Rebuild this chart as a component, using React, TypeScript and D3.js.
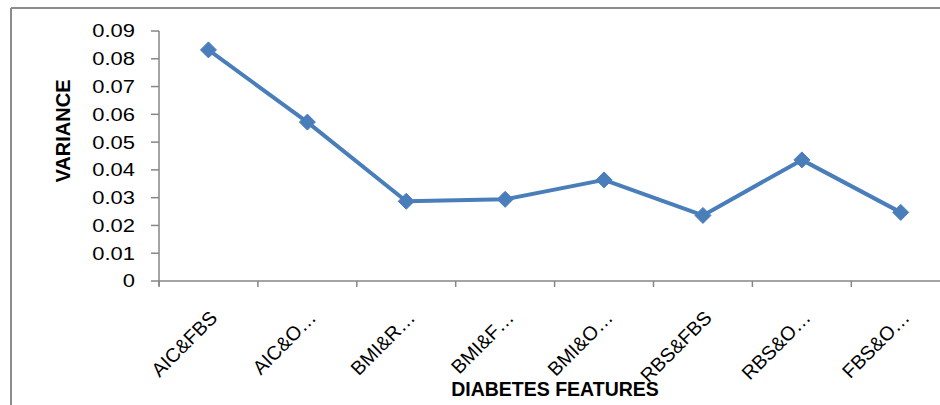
import React from "react";
import * as d3 from "d3";

const categories = ["AIC&FBS", "AIC&O…", "BMI&R…", "BMI&F…", "BMI&O…", "RBS&FBS", "RBS&O…", "FBS&O…"];
const variance = [0.0832, 0.0572, 0.0287, 0.0294, 0.0364, 0.0236, 0.0436, 0.0247];
const yTicks = [0, 0.01, 0.02, 0.03, 0.04, 0.05, 0.06, 0.07, 0.08, 0.09];
const yTickLabels = ["0", "0.01", "0.02", "0.03", "0.04", "0.05", "0.06", "0.07", "0.08", "0.09"];

const W = 940;
const H = 405;
const left = 159;
const top = 31;
const bottom = 281;
const step = 98.9;

export default function App() {
  const x = d3.scaleBand<string>().domain(categories).range([left, left + step * categories.length]);
  const y = d3.scaleLinear().domain([0, 0.09]).range([bottom, top]);
  const line = d3
    .line<number>()
    .x((_, i) => (x(categories[i]) as number) + x.bandwidth() / 2)
    .y((d) => y(d));
  const font = "'Liberation Sans', Arial, sans-serif";
  const axisColor = "#868686";
  const blue = "#4a7ebb";
  const dia = 8;
  return (
    <svg width={W} height={H} style={{ position: "absolute", left: 0, top: 0, display: "block", background: "#fff" }}>
      {/* outer frame */}
      <line x1={11} y1={8} x2={W} y2={8} stroke="#8c8c8c" strokeWidth={2} />
      <line x1={11} y1={8} x2={11} y2={H} stroke="#8c8c8c" strokeWidth={2} />
      {/* y axis */}
      <line x1={left} y1={top} x2={left} y2={bottom + 5} stroke={axisColor} strokeWidth={1.5} />
      {yTicks.map((t, i) => (
        <g key={t}>
          <line x1={left - 8} x2={left} y1={y(t)} y2={y(t)} stroke={axisColor} strokeWidth={1.5} />
          <text
            transform={`translate(135,${y(t)}) scale(1.22,1)`}
            dy="0.36em"
            textAnchor="end"
            fontFamily={font}
            fontSize={18}
            fill="#000"
          >
            {yTickLabels[i]}
          </text>
        </g>
      ))}
      {/* x axis */}
      <line x1={left} y1={bottom} x2={left + step * categories.length} y2={bottom} stroke={axisColor} strokeWidth={1.5} />
      {categories.map((c, i) => {
        const xs = x(c) as number;
        return <line key={"t" + i} x1={xs} x2={xs} y1={bottom} y2={bottom + 6} stroke={axisColor} strokeWidth={1.5} />;
      })}
      {categories.map((c, i) => {
        const cx = (x(c) as number) + x.bandwidth() / 2 + 10;
        const cy = 319;
        return (
          <text
            key={"l" + i}
            x={cx}
            y={cy}
            textAnchor="end"
            fontFamily={font}
            fontSize={19.5}
            fill="#000"
            transform={`rotate(-45 ${cx} ${cy})`}
          >
            {c}
          </text>
        );
      })}
      {/* line */}
      <path d={line(variance) || ""} fill="none" stroke={blue} strokeWidth={4} strokeLinejoin="round" />
      {variance.map((v, i) => {
        const cx = (x(categories[i]) as number) + x.bandwidth() / 2;
        const cy = y(v);
        return (
          <path
            key={"m" + i}
            d={`M${cx},${cy - dia}L${cx + dia},${cy}L${cx},${cy + dia}L${cx - dia},${cy}Z`}
            fill={blue}
            stroke={blue}
            strokeWidth={1}
          />
        );
      })}
      {/* titles */}
      <text
        x={0}
        y={0}
        transform={`translate(70,131) rotate(-90)`}
        textAnchor="middle"
        fontFamily={font}
        fontWeight="bold"
        fontSize={20}
        fill="#000"
      >
        VARIANCE
      </text>
      <text x={555} y={396} textAnchor="middle" fontFamily={font} fontWeight="bold" fontSize={19.5} fill="#000">
        DIABETES FEATURES
      </text>
    </svg>
  );
}
